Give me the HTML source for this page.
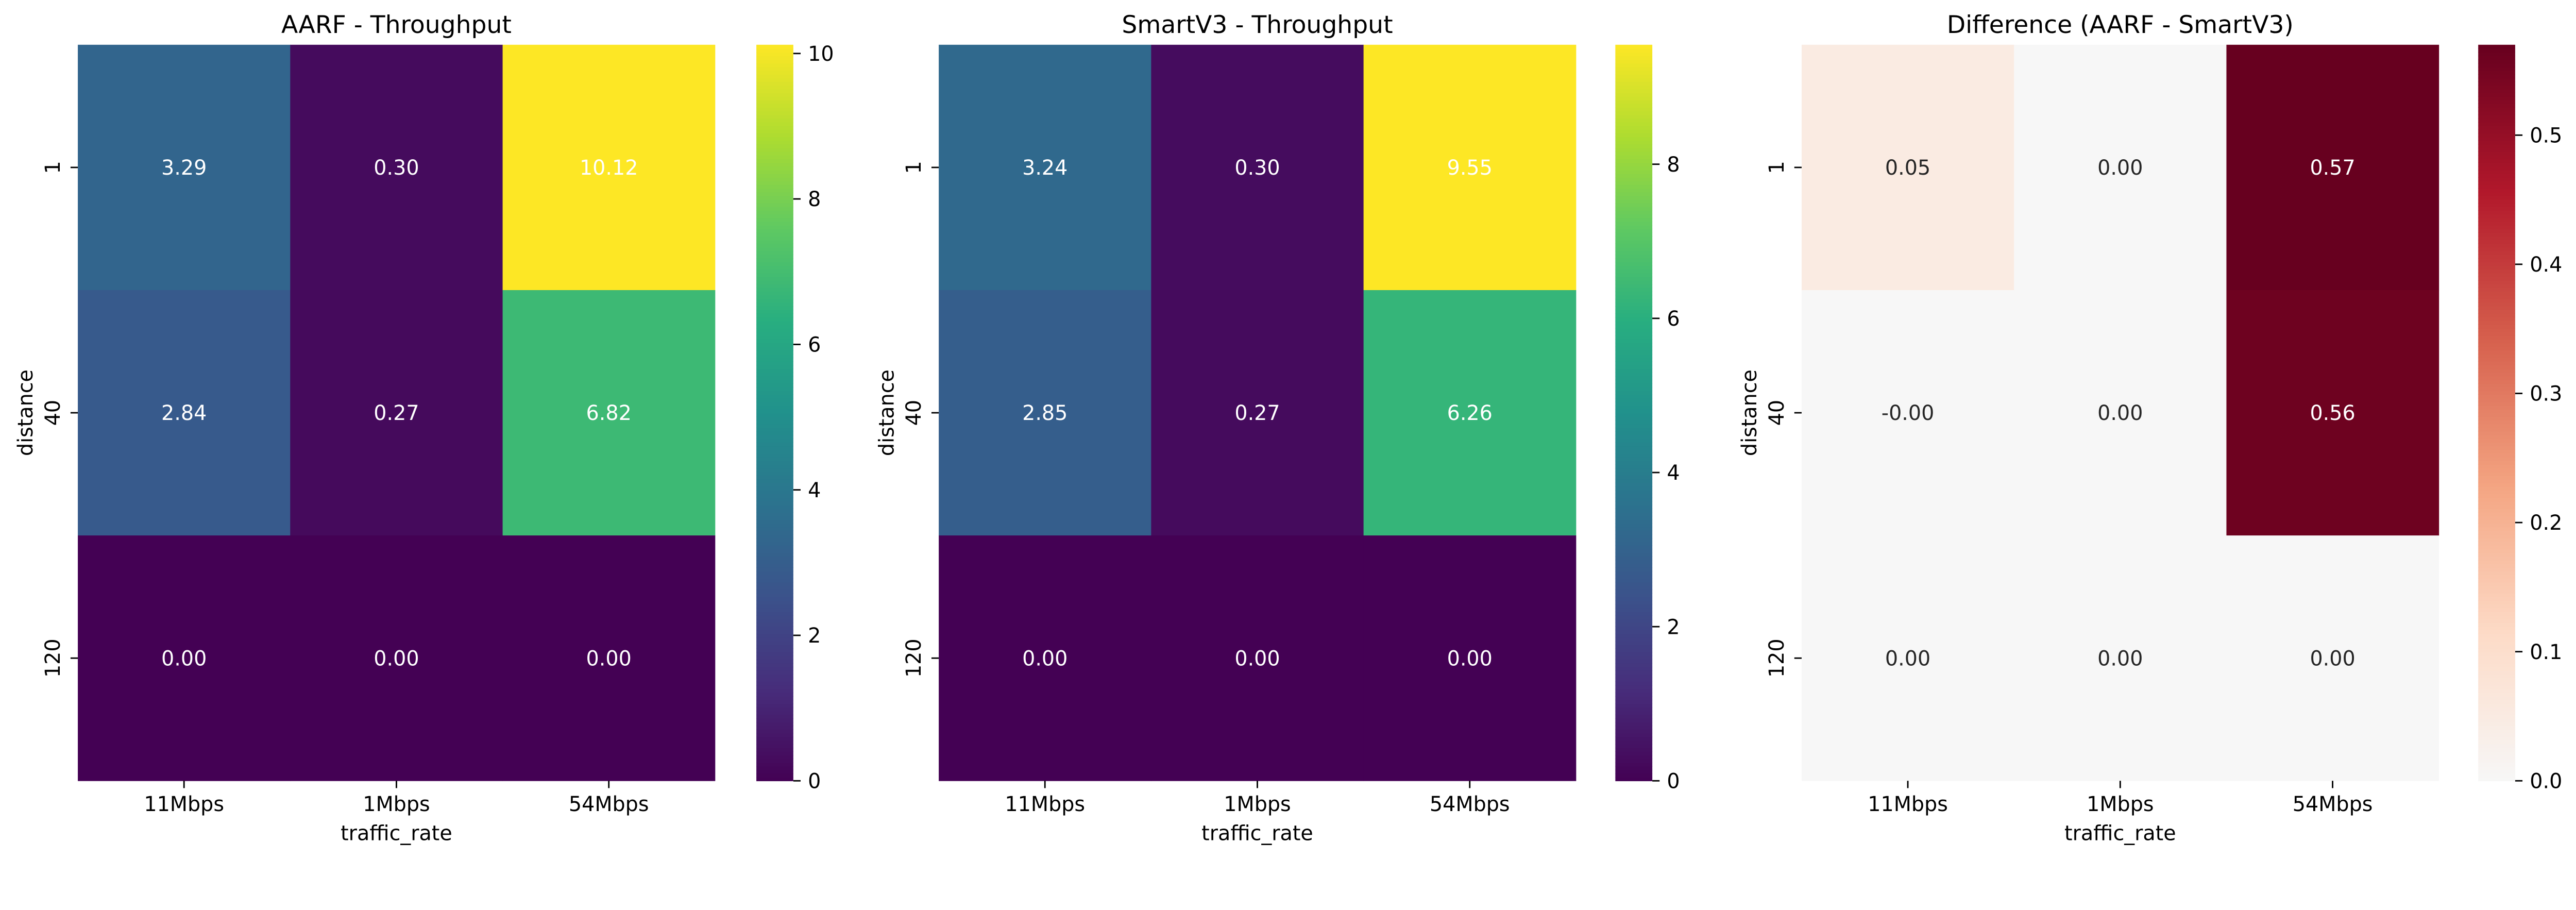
<!DOCTYPE html>
<html><head><meta charset="utf-8">
<style>
html,body{margin:0;padding:0;background:#fff;overflow:hidden;}
svg{display:block;width:100vw;height:calc(100vw * 1766 / 5296);font-family:"DejaVu Sans","Liberation Sans",sans-serif;}
</style></head>
<body>
<svg id="fig" viewBox="0 0 5296 1766" preserveAspectRatio="xMinYMin meet" xmlns="http://www.w3.org/2000/svg"></svg>
<script>
const categories = ["11Mbps","1Mbps","54Mbps"];
const distances = ["1","40","120"];
const titles = ["AARF - Throughput","SmartV3 - Throughput","Difference (AARF - SmartV3)"];
const aarfValues = [[3.29,0.30,10.12],[2.84,0.27,6.82],[0.00,0.00,0.00]];
const smartValues = [[3.24,0.30,9.55],[2.85,0.27,6.26],[0.00,0.00,0.00]];
const diffValues = [[0.05,0.00,0.57],[-0.001,0.00,0.56],[0.00,0.00,0.00]];
const aarfTicks = [0,2,4,6,8,10];
const smartTicks = [0,2,4,6,8];
const diffTicks = [0,0.1,0.2,0.3,0.4,0.5];

const NS="http://www.w3.org/2000/svg";
const svg=document.getElementById('fig');
function mk(tag,attrs,parent){const e=document.createElementNS(NS,tag);for(const k in attrs)e.setAttribute(k,attrs[k]);(parent||svg).appendChild(e);return e;}

const viridis=["#440154","#472d7b","#3b528b","#2c728e","#21918c","#28ae80","#5ec962","#addc30","#fde725"];
const rdbuUpper=["#f7f7f7","#fddbc7","#f4a582","#d6604d","#b2182b","#67001f"];
function hex(h){return [1,3,5].map(i=>parseInt(h.substr(i,2),16));}
function interp(stops,t){t=Math.max(0,Math.min(1,t));const n=stops.length-1;const i=Math.min(n-1,Math.floor(t*n));const f=t*n-i;const a=hex(stops[i]),b=hex(stops[i+1]);return a.map((v,k)=>Math.round(v+(b[k]-v)*f));}
function rgb(c){return `rgb(${c[0]},${c[1]},${c[2]})`;}
function lum(c){const l=c.map(v=>{v/=255;return v<=0.03928?v/12.92:Math.pow((v+0.055)/1.055,2.4);});return 0.2126*l[0]+0.7152*l[1]+0.0722*l[2];}

const panels=[
 {vals:aarfValues,ticks:aarfTicks,stops:viridis,vmin:0,vmax:10.12,left:160,cb:1555,fmt:v=>String(v),allWhite:true},
 {vals:smartValues,ticks:smartTicks,stops:viridis,vmin:0,vmax:9.55,left:1930,cb:3321,fmt:v=>String(v),allWhite:true},
 {vals:diffValues,ticks:diffTicks,stops:rdbuUpper,vmin:0,vmax:0.57,left:3704,cb:5095,fmt:v=>v.toFixed(1),allWhite:false}
];
const topY=92,H=1513,W=1310,cbW=76;
const cw=W/categories.length, ch=H/distances.length;

panels.forEach((p,pi)=>{
  const g=mk('g',{});
  
  
  const xS=i=>p.left+i*cw;
  const yS=j=>topY+j*ch;
  const cS=v=>interp(p.stops,(v-p.vmin)/(p.vmax-p.vmin));
  p.vals.forEach((row,j)=>row.forEach((v,i)=>{
    const c=cS(v);
    const r=mk('rect',{x:xS(i),y:yS(j),width:cw+0.5,height:ch+0.5,fill:rgb(c)},g);
    
    
    const col=(p.allWhite||lum(c)<0.3)?'#ffffff':'#262626';
    const t=mk('text',{x:xS(i)+cw/2,y:yS(j)+ch/2+15,'text-anchor':'middle','font-size':42,fill:col},g);
    t.textContent=(Math.abs(v)<0.005&&v<0?'-0.00':v.toFixed(2));
    
    
  }));
  const tt=mk('text',{x:p.left+W/2,y:68,'text-anchor':'middle','font-size':50,fill:'#000'},g);
  tt.textContent=titles[pi];
  
  
  categories.forEach((c,i)=>{
    const x=xS(i)+cw/2;
    mk('line',{x1:x,y1:topY+H,x2:x,y2:topY+H+15,stroke:'#000','stroke-width':3},g);
    const t=mk('text',{x:x,y:1667,'text-anchor':'middle','font-size':42,fill:'#000'},g);
    t.textContent=c;
    
    
  });
  const xl=mk('text',{x:p.left+W/2,y:1727,'text-anchor':'middle','font-size':42,fill:'#000'},g);
  xl.textContent='traffic_rate';
  
  
  distances.forEach((d,j)=>{
    const y=yS(j)+ch/2;
    mk('line',{x1:p.left-15,y1:y,x2:p.left,y2:y,stroke:'#000','stroke-width':3},g);
    const t=mk('text',{x:p.left-37,y:y,'text-anchor':'middle','font-size':42,fill:'#000',transform:`rotate(-90 ${p.left-37} ${y})`},g);
    t.textContent=d;
    
    
  });
  const yl=mk('text',{x:p.left-93,y:topY+H/2,'text-anchor':'middle','font-size':42,fill:'#000',transform:`rotate(-90 ${p.left-93} ${topY+H/2})`},g);
  yl.textContent='distance';
  
  
  const cb=mk('g',{},g);
  
  
  const N=200;
  for(let k=0;k<N;k++){
    const t0=k/N;
    mk('rect',{x:p.cb,y:topY+H-(k+1)*H/N,width:cbW,height:H/N+0.8,fill:rgb(interp(p.stops,t0+0.5/N))},cb);
  }
  const cbY=v=>topY+H-(v-p.vmin)/(p.vmax-p.vmin)*H;
  p.ticks.forEach(v=>{
    const y=cbY(v);
    mk('line',{x1:p.cb+cbW,y1:y,x2:p.cb+cbW+15,y2:y,stroke:'#000','stroke-width':3},cb);
    const t=mk('text',{x:p.cb+cbW+30,y:y+15,'font-size':42,fill:'#000'},cb);
    t.textContent=p.fmt(v);
    
    
  });
});
</script>
</body></html>
